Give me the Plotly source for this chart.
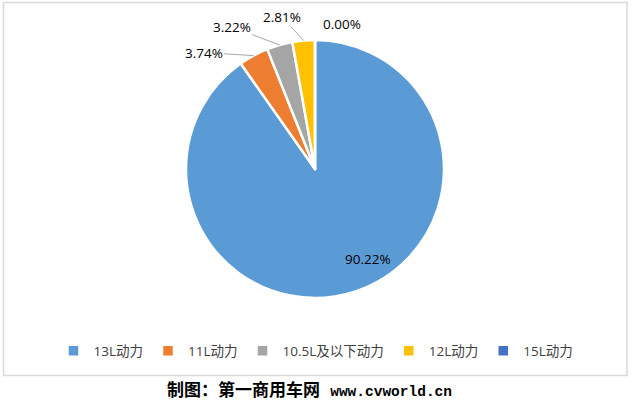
import math
import plotly.graph_objects as go

labels = ["13L动力", "11L动力", "10.5L及以下动力", "12L动力", "15L动力"]
values = [90.22, 3.74, 3.22, 2.81, 0.00]
colors = ["#5B9BD5", "#ED7D31", "#A5A5A5", "#FFC000", "#4472C4"]
text_labels = [f"{v:.2f}%" for v in values]

# layout geometry (pixels)
W, H = 632, 404
CX, CY, R = 315, 169, 129
# label offsets (pixels) relative to the slice rim point; (dx, dy, show leader line)
label_offsets = [(53, 90, False), (-50, -3, True), (-48, -18, True), (-22, -24, True), (27, -16, False)]

fig = go.Figure()
fig.add_trace(go.Pie(
    labels=labels, values=values, textinfo="none",
    sort=False, direction="clockwise", rotation=0,
    marker=dict(colors=colors, line=dict(color="white", width=2.5)),
    domain=dict(x=[(CX - R) / W, (CX + R) / W], y=[1 - (CY + R) / H, 1 - (CY - R) / H]),
    hoverinfo="label+percent",
))

total = sum(values)
cum = 0.0
font_lbl = dict(family="Open Sans, Noto Sans CJK SC", size=13.5, color="#000000")
for i, v in enumerate(values):
    mid = (cum + v / 2) / total * 2 * math.pi
    cum += v
    dx, dy, line = label_offsets[i]
    if i == 0:
        # inside label: relative to pie centre
        fig.add_annotation(x=CX / W, y=1 - CY / H, xref="paper", yref="paper",
                           text=text_labels[i], showarrow=False, xshift=dx, yshift=-dy,
                           font=font_lbl)
        continue
    px = CX + R * math.sin(mid)
    py = CY - R * math.cos(mid)
    fig.add_annotation(x=px / W, y=1 - py / H, xref="paper", yref="paper",
                       text=text_labels[i], showarrow=True, ax=dx, ay=dy,
                       arrowhead=0, arrowwidth=1,
                       arrowcolor="#A6A6A6" if line else "rgba(0,0,0,0)",
                       standoff=0, startstandoff=0,
                       font=font_lbl)

fig.add_shape(type="rect", xref="paper", yref="paper",
              x0=3.5 / W, x1=627 / W, y0=1 - 375.5 / H, y1=1 - 2.5 / H,
              line=dict(color="#D9D9D9", width=1.5))

fig.add_annotation(
    text="<b>制图：第一商用车网 <span style='font-size:14.5px'>www.cvworld.cn</span></b>",
    xref="paper", yref="paper", x=309.5 / W, y=1 - 390 / H, yanchor="middle",
    showarrow=False,
    font=dict(family="Liberation Mono, Noto Sans CJK SC", size=17, color="#000000"))

fig.update_layout(
    width=W, height=H, margin=dict(l=0, r=0, t=0, b=0, autoexpand=False),
    paper_bgcolor="white", plot_bgcolor="white",
    showlegend=True,
    legend=dict(orientation="h", x=0.5, xanchor="center", y=1 - 351 / H, yanchor="middle",
                font=dict(family="Open Sans, Noto Sans CJK SC", size=13.5, color="#404040"),
                itemwidth=30, traceorder="normal", bgcolor="rgba(0,0,0,0)"),
)

fig.write_html("out.html", config={"displayModeBar": False},
               post_script="document.body.style.margin='0';document.body.style.overflow='hidden';")
